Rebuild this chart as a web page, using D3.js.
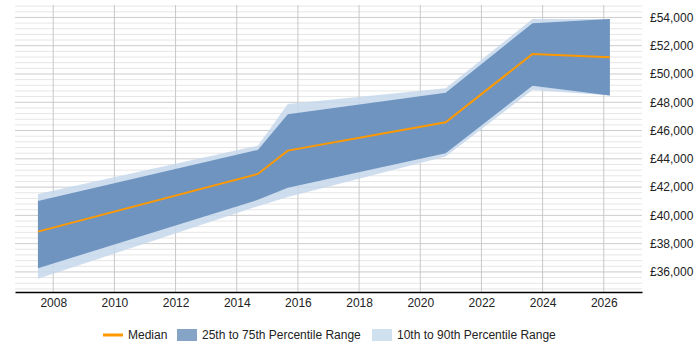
<!DOCTYPE html>
<html lang="en">
<head>
  <meta charset="UTF-8">
  <title>Salary percentiles over time</title>
  <script src="https://d3js.org/d3.v7.min.js"></script>
  <style>
    body { margin: 0; font-family: "Liberation Sans", Arial, sans-serif; }
    .tick text { font-size: 12px; fill: #222; }
    .legend text { font-size: 12px; fill: #222; }
  </style>
</head>
<body>
  <svg width="700" height="350"></svg>
  <script>
    // data points (fractional years where the stats were taken)
    const years = [2007.5, 2014.69, 2015.67, 2020.83, 2023.67, 2026.2];
    const p10 = [35510, 40650, 41300, 44160, 48870, 48470];
    const p25 = [36260, 41100, 41950, 44400, 49160, 48470];
    const median = [38850, 42930, 44580, 46590, 51420, 51190];
    const p75 = [41020, 44630, 47150, 48680, 53590, 53890];
    const p90 = [41520, 44930, 47880, 49000, 53890, 53890];
    const xTicks = [2008, 2010, 2012, 2014, 2016, 2018, 2020, 2022, 2024, 2026];
    const yTicks = [36000, 38000, 40000, 42000, 44000, 46000, 48000, 50000, 52000, 54000];

    const data = years.map((yr, i) => ({
      year: yr, p10: p10[i], p25: p25[i], med: median[i], p75: p75[i], p90: p90[i]
    }));

    const svg = d3.select("svg"),
          margin = {top: 5, right: 58, bottom: 58, left: 15},
          width = +svg.attr("width") - margin.left - margin.right,
          height = +svg.attr("height") - margin.top - margin.bottom;

    const g = svg.append("g").attr("transform", `translate(${margin.left},${margin.top})`);

    const x = d3.scaleLinear().domain([2006.75, 2027.25]).range([0, width]);
    const y = d3.scaleLinear().domain([34580, 54880]).range([height, 0]);

    // minor horizontal grid every 400
    g.append("g")
      .selectAll("line")
      .data(d3.range(34800, 54881, 400).filter(v => v % 2000 !== 0))
      .enter().append("line")
      .attr("x1", 0).attr("x2", width)
      .attr("y1", d => y(d)).attr("y2", d => y(d))
      .attr("stroke", "#e6e6e6");

    // major horizontal grid
    g.append("g")
      .selectAll("line")
      .data(yTicks.concat([34000]).filter(v => v >= 34580))
      .enter().append("line")
      .attr("x1", 0).attr("x2", width)
      .attr("y1", d => y(d)).attr("y2", d => y(d))
      .attr("stroke", "#cccccc");

    // vertical grid
    g.append("g")
      .selectAll("line")
      .data(xTicks)
      .enter().append("line")
      .attr("x1", d => x(d)).attr("x2", d => x(d))
      .attr("y1", 0).attr("y2", height)
      .attr("stroke", "#c8c8c8");

    const area10 = d3.area().x(d => x(d.year)).y0(d => y(d.p10)).y1(d => y(d.p90));
    const area25 = d3.area().x(d => x(d.year)).y0(d => y(d.p25)).y1(d => y(d.p75));

    g.append("path").datum(data)
      .attr("d", area10)
      .attr("fill", "#c5d8ec")
      .attr("fill-opacity", 0.85);

    g.append("path").datum(data)
      .attr("d", area25)
      .attr("fill", "#56809f")
      .attr("fill", "#5984b4")
      .attr("fill-opacity", 0.82);

    g.append("path").datum(data)
      .attr("d", d3.line().x(d => x(d.year)).y(d => y(d.med)))
      .attr("fill", "none")
      .attr("stroke", "#ff9900")
      .attr("stroke-width", 2);

    // x axis
    const xAxis = g.append("g")
      .attr("transform", `translate(0,${height})`)
      .call(d3.axisBottom(x).tickValues(xTicks).tickFormat(d3.format("d")).tickSize(0).tickPadding(6));
    xAxis.select(".domain").attr("stroke", "#000").attr("stroke-width", 1.5);
    xAxis.selectAll("text").style("font-family", "Liberation Sans, Arial, sans-serif");

    // y axis on the right, no line
    const yAxis = g.append("g")
      .attr("transform", `translate(${width},0)`)
      .call(d3.axisRight(y).tickValues(yTicks)
        .tickFormat(d => "£" + d3.format(",")(d)).tickSize(0).tickPadding(8));
    yAxis.select(".domain").remove();
    yAxis.selectAll("text").style("font-family", "Liberation Sans, Arial, sans-serif");

    // legend
    const legend = svg.append("g").attr("class", "legend");
    legend.append("line")
      .attr("x1", 103).attr("x2", 123).attr("y1", 335).attr("y2", 335)
      .attr("stroke", "#ff9900").attr("stroke-width", 3);
    legend.append("text").attr("x", 128).attr("y", 339).text("Median");
    legend.append("rect")
      .attr("x", 177).attr("y", 329).attr("width", 20).attr("height", 12)
      .attr("fill", "#86a5c6");
    legend.append("text").attr("x", 202).attr("y", 339).text("25th to 75th Percentile Range");
    legend.append("rect")
      .attr("x", 372).attr("y", 329).attr("width", 20).attr("height", 12)
      .attr("fill", "#cfe0ef");
    legend.append("text").attr("x", 397).attr("y", 339).text("10th to 90th Percentile Range");
  </script>
</body>
</html>
